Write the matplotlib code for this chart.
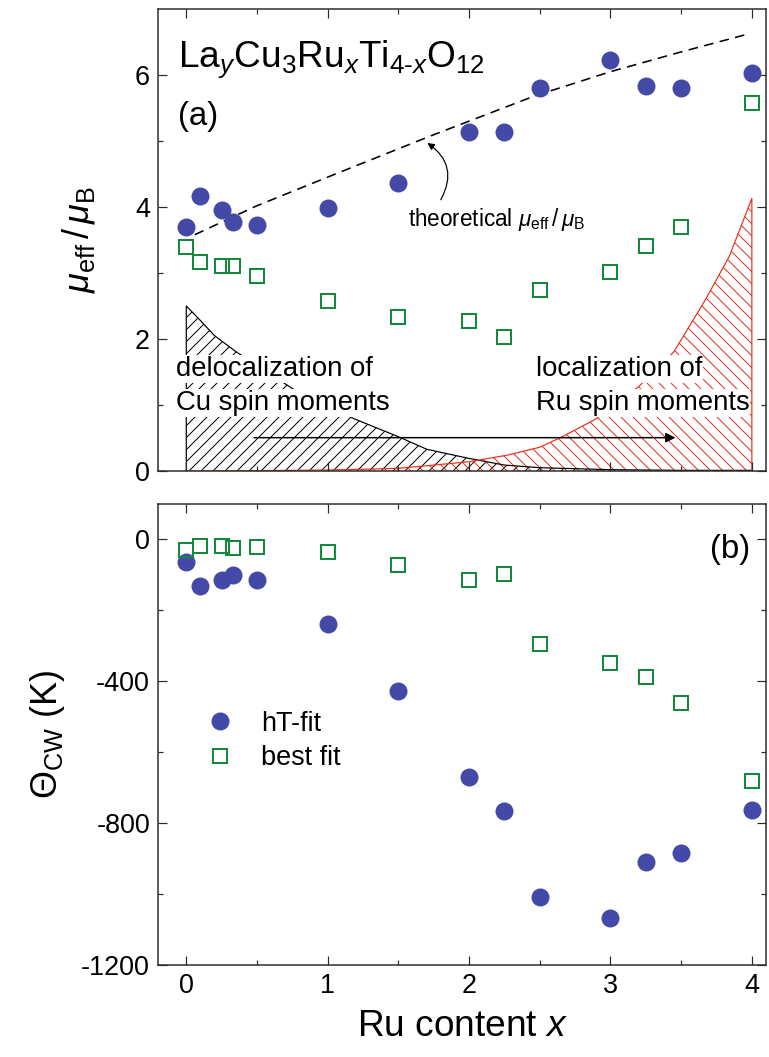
import numpy as np
import matplotlib
matplotlib.use('Agg')
import matplotlib.pyplot as plt

plt.rcParams['font.family'] = ['Liberation Sans', 'DejaVu Sans']
plt.rcParams['mathtext.fontset'] = 'custom'
plt.rcParams['mathtext.rm'] = 'Liberation Sans'
plt.rcParams['mathtext.it'] = 'Liberation Sans:italic'
plt.rcParams['mathtext.bf'] = 'Liberation Sans:bold'
plt.rcParams['hatch.linewidth'] = 1.0
plt.rcParams['axes.unicode_minus'] = False

# Ru content
x = [0, 0.1, 0.25, 0.33, 0.5, 1.0, 1.5, 2.0, 2.25, 2.5, 3.0, 3.25, 3.5, 4.0]

# effective moment (a)
mu_ht = [3.70, 4.16, 3.95, 3.78, 3.73, 3.98, 4.36, 5.13, 5.13, 5.81, 6.23, 5.84, 5.81, 6.03]
mu_best = [3.40, 3.17, 3.10, 3.11, 2.95, 2.57, 2.34, 2.28, 2.03, 2.74, 3.01, 3.41, 3.70, 5.57]

# theoretical mu_eff/mu_B (dashed)
x_theo = [0.06, 0.49, 1.02, 1.72, 2.46, 3.0, 3.5, 3.99]
mu_theo = [3.58, 4.01, 4.47, 5.07, 5.68, 6.05, 6.35, 6.63]

# Cu delocalization / Ru localization envelopes
x_cu = [0, 0.1, 0.2, 0.35, 0.5, 0.75, 1.0, 1.2, 1.5, 1.7, 2.0, 2.25, 2.5, 3.0, 3.5, 4.0]
y_cu = [2.5, 2.28, 2.05, 1.81, 1.6, 1.25, 0.97, 0.78, 0.52, 0.33, 0.19, 0.09, 0.05, 0.02, 0.01, 0.01]
x_ru = [0, 0.5, 1.0, 1.5, 2.0, 2.27, 2.5, 2.66, 2.89, 3.2, 3.45, 3.67, 3.84, 4.0]
y_ru = [0.0, 0.005, 0.015, 0.04, 0.14, 0.24, 0.36, 0.52, 0.78, 1.28, 1.81, 2.59, 3.25, 4.13]

# Curie-Weiss temperature (b)
th_ht = [-63, -132, -115, -101, -114, -237, -426, -671, -766, -1007, -1068, -910, -885, -763]
th_best = [-30, -19, -19, -25, -21, -36, -73, -115, -96, -295, -347, -388, -460, -680]

blue = '#4449a8'
green = '#12893b'
red = '#e8301e'
spine_c = '#2b2b2b'

W, H = 769, 1057
fig = plt.figure(figsize=(W / 72, H / 72), dpi=72)
L, R = 158 / W, 766 / W
ax1 = fig.add_axes([L, 1 - 471 / H, R - L, (471 - 9) / H])
ax2 = fig.add_axes([L, 1 - 965 / H, R - L, (965 - 504) / H], sharex=ax1)

# --- panel (a)
ax1.fill_between(x_cu, 0, y_cu, facecolor='none', edgecolor='black', hatch='//', linewidth=0, zorder=1)
ax1.plot([0] + x_cu, [0] + y_cu, color='black', lw=1.2, zorder=1.5)
ax1.fill_between(x_ru, 0, y_ru, facecolor='none', edgecolor=red, hatch='\\\\', linewidth=0, zorder=1)
ax1.plot(x_ru + [4.0], y_ru + [0], color=red, lw=1.2, zorder=1.5)

ax1.plot(x_theo, mu_theo, ls=(0, (6, 4)), color='black', lw=1.6, zorder=2)
ax1.plot(x, mu_ht, 'o', color=blue, ms=18, mec='none', zorder=4)
ax1.plot(x, mu_best, 's', mfc='none', mec=green, ms=14, mew=2, zorder=4)

box = dict(facecolor='white', edgecolor='none', pad=1)
ax1.text(-0.073, 1.55, 'delocalization of', fontsize=27.5, va='center', bbox=box, zorder=3)
ax1.text(-0.073, 1.03, 'Cu spin moments', fontsize=27.5, va='center', bbox=box, zorder=3)
ax1.text(2.47, 1.55, 'localization of', fontsize=27.5, va='center', bbox=box, zorder=3)
ax1.text(2.47, 1.03, 'Ru spin moments', fontsize=27.5, va='center', bbox=box, zorder=3)

ax1.annotate('', xy=(3.46, 0.505), xytext=(0.48, 0.505),
             arrowprops=dict(arrowstyle='-|>', color='black', lw=1.5,
                             mutation_scale=20, shrinkA=0, shrinkB=0), zorder=3.5)

ax1.text(1.57, 3.71, r'theoretical $\mu_{\rm eff}\,/\,\mu_{\rm B}$', fontsize=22.5, va='baseline')
ax1.annotate('', xy=(1.705, 4.97), xytext=(1.80, 4.11),
             arrowprops=dict(arrowstyle='-|>', color='black', lw=1.2,
                             connectionstyle='arc3,rad=0.45', mutation_scale=14,
                             shrinkA=0, shrinkB=0))

ax1.text(-0.059, 6.12, r'La$_y$Cu$_3$Ru$_x$Ti$_{4\text{-}x}$O$_{12}$', fontsize=37, va='baseline')
ax1.text(-0.06, 5.37, '(a)', fontsize=33, va='center')

ax1.set_ylim(0, 7)
ax1.set_yticks([0, 2, 4, 6])
ax1.set_yticks([1, 3, 5], minor=True)
ax1.set_ylabel(r'$\mu_{\rm eff}\,/\,\mu_{\rm B}$', fontsize=36, labelpad=38)
ax1.tick_params(labelbottom=False)

# --- panel (b)
ax2.plot(x, th_ht, 'o', color=blue, ms=18, mec='none', label='hT-fit', zorder=3)
ax2.plot(x, th_best, 's', mfc='none', mec=green, ms=14, mew=2, label='best fit', zorder=4)
ax2.text(3.99, -27, '(b)', fontsize=33, va='center', ha='right')
ax2.legend(loc='center left', bbox_to_anchor=(0.08, 0.486), frameon=False,
           fontsize=27, handlelength=1.0, handletextpad=1.0, labelspacing=0.3,
           borderpad=0, borderaxespad=0)

ax2.set_ylim(-1200, 100)
ax2.set_yticks([-1200, -800, -400, 0])
ax2.set_yticks([-1000, -600, -200], minor=True)
ax2.set_ylabel(r'$\Theta_{\rm CW}$ (K)', fontsize=36, labelpad=14)
ax2.set_xlim(-0.2, 4.1)
ax2.set_xticks([0, 1, 2, 3, 4])
ax2.set_xticks([0.5, 1.5, 2.5, 3.5], minor=True)
ax2.set_xlabel(r'Ru content $x$', fontsize=37, labelpad=10)

for ax in (ax1, ax2):
    for s in ax.spines.values():
        s.set_linewidth(1.5)
        s.set_color(spine_c)
    ax.tick_params(which='both', direction='in', top=True, right=True,
                   color=spine_c, width=1.2, labelsize=27, pad=8)
    ax.tick_params(which='major', length=9)
    ax.tick_params(which='minor', length=5)

fig.savefig('out.png', dpi=72)
